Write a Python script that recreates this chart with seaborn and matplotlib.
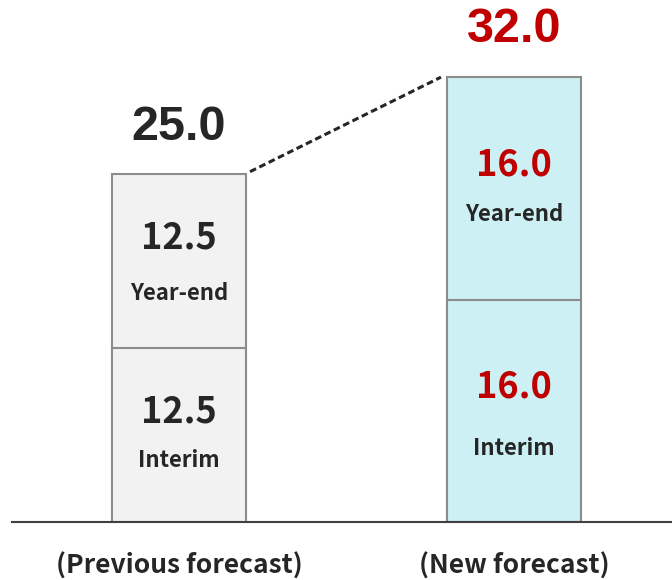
import matplotlib
matplotlib.use("Agg")
import matplotlib.pyplot as plt
import seaborn as sns
import pandas as pd

cases = ["(Previous forecast)", "(New forecast)"]
interim = [12.5, 16.0]
year_end = [12.5, 16.0]
totals = [25.0, 32.0]
seg_labels = ["Interim", "Year-end"]

fills = ["#f2f2f2", "#ccf0f3"]
num_colors = ["#262626", "#c00000"]
# label offsets (points below segment centre) per bar: [interim, year-end]
label_offsets = [[18, 23], [27, 19]]

sns.set_style("white")
plt.rcParams["font.family"] = ["Noto Sans CJK JP", "DejaVu Sans"]

df = pd.DataFrame({"case": cases, "interim": interim, "year_end": year_end, "total": totals})

fig = plt.figure(figsize=(6.72, 5.8), dpi=100)
ax = fig.add_axes([12 / 672, 58 / 580, 660 / 672, 522 / 580])

W = 0.4
common = dict(width=W, edgecolor="#8c8c8c", linewidth=1.5, saturation=1, legend=False, ax=ax, zorder=2)
sns.barplot(data=df, x="case", y="total", hue="case", palette=fills, **common)
sns.barplot(data=df, x="case", y="interim", hue="case", palette=fills, **common)

ax.set_xlim(-0.4985, 1.4716)
ax.set_ylim(0, 37.55)

for i in range(len(cases)):
    c = num_colors[i]
    segs = [(0, interim[i]), (interim[i], interim[i] + year_end[i])]
    for k, ((lo, hi), lab) in enumerate(zip(segs, seg_labels)):
        mid = (lo + hi) / 2
        ax.annotate(f"{hi - lo:.1f}", (i, mid), xytext=(0, 17), textcoords="offset points",
                    ha="center", va="center", fontsize=26, fontweight="bold", color=c)
        ax.annotate(lab, (i, mid), xytext=(0, -label_offsets[i][k]), textcoords="offset points",
                    ha="center", va="center", fontsize=16, fontweight="bold", color="#262626")
    ax.annotate(f"{totals[i]:.1f}", (i, totals[i]), xytext=(0, 34), textcoords="offset points",
                ha="center", va="center", fontsize=35, fontweight="bold", color=c,
                family="Liberation Sans")

# dashed connector between totals
ax.plot([0 + W / 2 + 0.012, 1 - W / 2 - 0.018], [totals[0] + 0.2, totals[1]],
        color="#262626", lw=2.2, ls=(0, (2.2, 1.2)), zorder=3)

for s in ["top", "left", "right"]:
    ax.spines[s].set_visible(False)
ax.spines["bottom"].set_color("#404040")
ax.spines["bottom"].set_linewidth(1.5)
ax.set_yticks([])
ax.set_xlabel("")
ax.set_ylabel("")
ax.tick_params(axis="x", length=0, pad=22, labelsize=19, labelcolor="#262626")
for t in ax.get_xticklabels():
    t.set_fontweight("bold")

fig.savefig("out.png", dpi=100)
